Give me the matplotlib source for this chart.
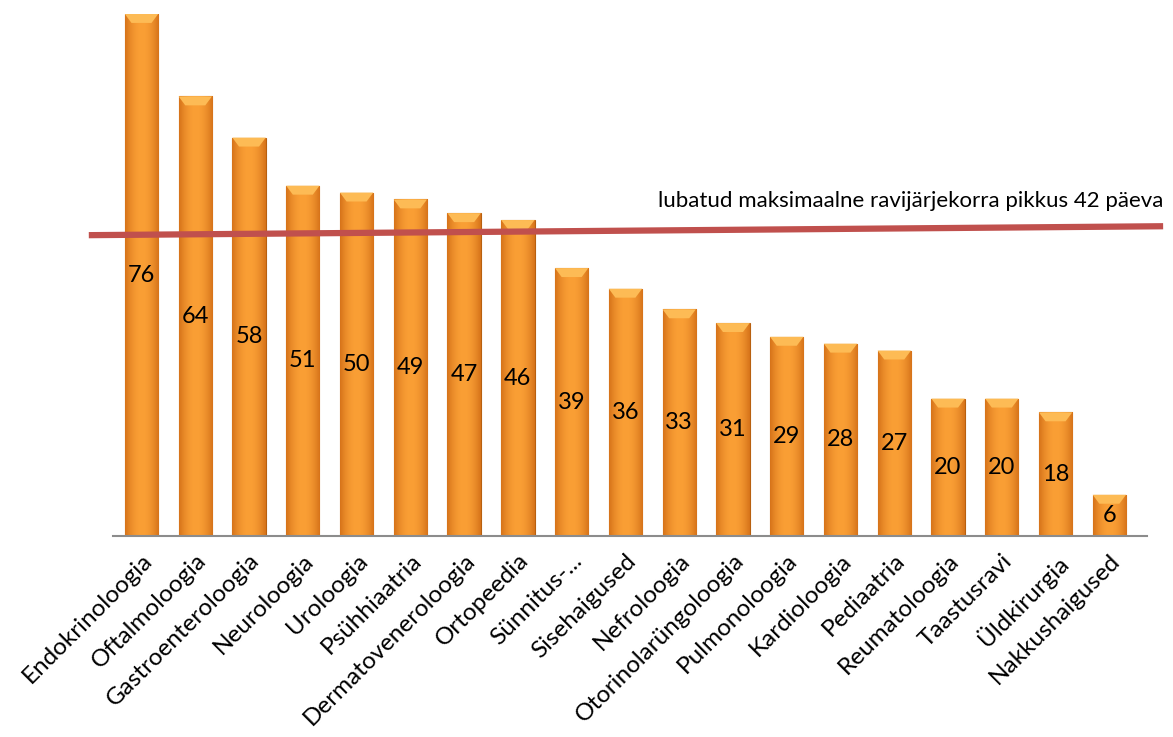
import numpy as np
from matplotlib import pyplot as plt
from matplotlib.colors import LinearSegmentedColormap

categories = ['Endokrinoloogia', 'Oftalmoloogia', 'Gastroenteroloogia', 'Neuroloogia',
              'Uroloogia', 'Psühhiaatria', 'Dermatoveneroloogia', 'Ortopeedia',
              'Sünnitus-...', 'Sisehaigused', 'Nefroloogia', 'Otorinolarüngoloogia',
              'Pulmonoloogia', 'Kardioloogia', 'Pediaatria', 'Reumatoloogia',
              'Taastusravi', 'Üldkirurgia', 'Nakkushaigused']
values = [76, 64, 58, 51, 50, 49, 47, 46, 39, 36, 33, 31, 29, 28, 27, 20, 20, 18, 6]
# red limit line (drawn by hand in the original, slightly sloped)
limit_label = 'lubatud maksimaalne ravijärjekorra pikkus 42 päeva'
limit_left, limit_right = 43.8, 45.1

plt.rcParams['font.family'] = ['Lato', 'DejaVu Sans']

fig = plt.figure(figsize=(11.73, 7.37), dpi=100)
ax = fig.add_axes([113/1173, 1-536/737, (1147-113)/1173, (536-14)/737])

x = np.arange(len(values))
bars = ax.bar(x, values, width=0.62, color='#f39a2b', edgecolor='#b8600f', linewidth=0.8, zorder=2)

# horizontal gradient inside each bar
grad = np.linspace(0, 1, 64)
grad = 1 - (2*grad - 1)**2
grad = np.tile(grad, (2, 1))
cmap = LinearSegmentedColormap.from_list('og', ['#d6731a', '#fa9f35'])
for b in bars:
    bx, bw, bh = b.get_x(), b.get_width(), b.get_height()
    im = ax.imshow(grad, cmap=cmap, extent=[bx, bx+bw, 0, bh], aspect='auto', zorder=2.5)
    im.set_clip_path(b)
    # light bevel at the top
    cap = min(1.3, bh*0.3)
    ax.fill([bx, bx+bw, bx+bw*0.8, bx+bw*0.2], [bh, bh, bh-cap, bh-cap],
            color='#fdbb55', zorder=3, lw=0)
    ax.text(bx+bw/2, bh/2, str(int(bh)), ha='center', va='center', fontsize=17, color='black', zorder=4)

ax.set_xlim(-0.53, 18.7)
ax.set_ylim(0, 76)

ax.plot([-0.98, 19.0], [limit_left, limit_right], color='#c0504d', lw=4.5, clip_on=False, zorder=5,
        solid_capstyle='butt')
ax.text(19.0, limit_right+2.2, limit_label, ha='right', va='bottom', fontsize=16)

for s in ['top', 'right', 'left']:
    ax.spines[s].set_visible(False)
ax.spines['bottom'].set_color('#8c8c8c')
ax.spines['bottom'].set_linewidth(1.5)
ax.set_yticks([])
ax.set_xticks(x)
ax.set_xticklabels(categories, rotation=45, ha='right', rotation_mode='anchor', fontsize=17.5)
ax.tick_params(axis='x', length=0, pad=10)

fig.savefig('out.png', dpi=100)
